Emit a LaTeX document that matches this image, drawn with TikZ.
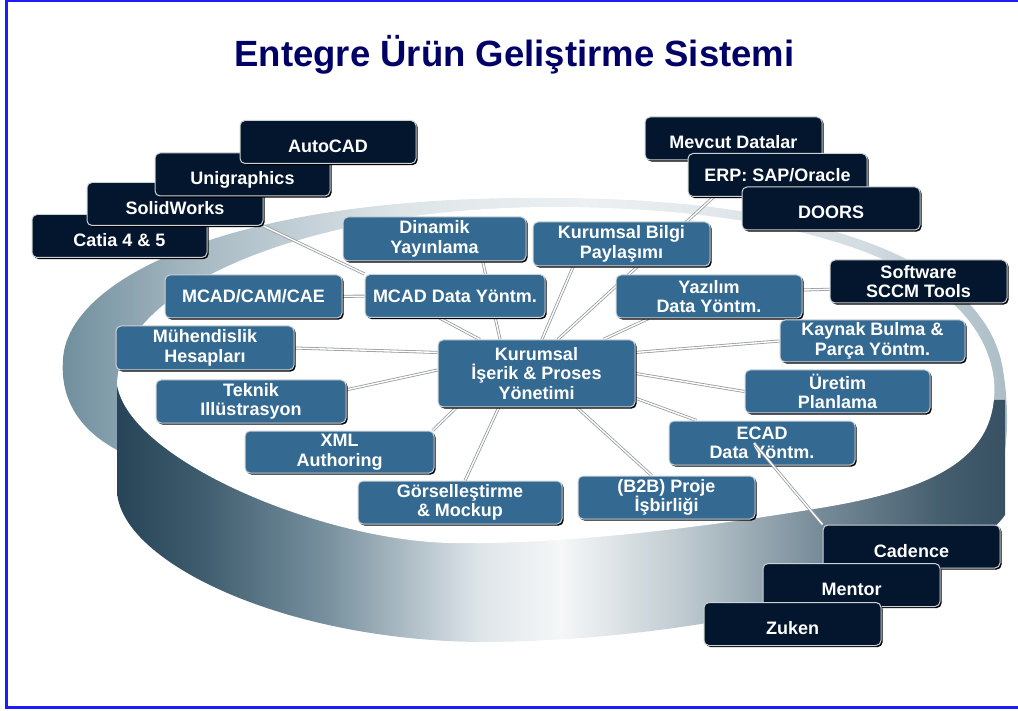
\documentclass[tikz,border=0pt]{standalone}
\usepackage{fontspec}
\setmainfont{Liberation Sans}
\usetikzlibrary{shadows}

\definecolor{frameblue}{RGB}{28,28,250}
\definecolor{titlenavy}{RGB}{0,0,102}
\definecolor{boxblue}{RGB}{52,106,146}
\definecolor{boxnavy}{RGB}{3,22,45}
\definecolor{boxedge}{RGB}{205,210,214}
\definecolor{linkgray}{RGB}{150,155,160}

% rim of the drum
\definecolor{rimA}{RGB}{112,142,157}
\definecolor{rimB}{RGB}{165,184,194}
\definecolor{rimC}{RGB}{222,229,233}
\definecolor{rimD}{RGB}{236,240,242}
\definecolor{rimE}{RGB}{212,221,226}
\definecolor{rimF}{RGB}{172,189,198}
\pgfdeclarehorizontalshading{rimshade}{100bp}{color(0bp)=(rimA); color(25bp)=(rimA); color(32bp)=(rimB); color(43bp)=(rimC); color(53bp)=(rimD); color(67bp)=(rimE); color(75bp)=(rimF); color(100bp)=(rimF)}

% side wall of the drum
\definecolor{sideA}{RGB}{40,68,88}
\definecolor{sideB}{RGB}{62,92,110}
\definecolor{sideC}{RGB}{122,146,160}
\definecolor{sideD}{RGB}{222,229,233}
\definecolor{sideE}{RGB}{245,247,248}
\definecolor{sideF}{RGB}{192,203,209}
\definecolor{sideG}{RGB}{118,139,152}
\definecolor{sideH}{RGB}{70,95,111}
\definecolor{sideI}{RGB}{55,80,98}
\pgfdeclarehorizontalshading{sideshade}{100bp}{color(0bp)=(sideA); color(25bp)=(sideA); color(29.7bp)=(sideB); color(37bp)=(sideC); color(45.4bp)=(sideD); color(50bp)=(sideE); color(56.7bp)=(sideF); color(64.6bp)=(sideG); color(71.3bp)=(sideH); color(75bp)=(sideI); color(100bp)=(sideI)}

\pgfdeclarelayer{drum}
\pgfdeclarelayer{links}
\pgfdeclarelayer{front}
\pgfsetlayers{drum,links,main,front}

\tikzset{
	box/.style={rounded corners=5pt, draw=boxedge, line width=1pt, text=white,
		font=\fontsize{18}{19.5}\selectfont\bfseries, align=center, inner sep=2pt,
		minimum height=43pt,
		drop shadow={shadow xshift=1.6pt, shadow yshift=-1.6pt, fill=black, opacity=1}},
	bluebox/.style={box, fill=boxblue},
	navybox/.style={box, fill=boxnavy},
	toolbox/.style={navybox, text height=21pt, text depth=0pt},
	link/.style={draw=linkgray, double=white, double distance=1.4pt, line width=0.8pt}
}

\begin{document}
\begin{tikzpicture}[x=1pt,y=-1pt]
	\useasboundingbox (0,0) rectangle (1018,711);

	\draw[frameblue, line width=3pt] (6,1) rectangle (1030,707);
	\node[anchor=base, text=titlenavy, font=\fontsize{36.5}{40}\selectfont\bfseries] (title) at (514.5,66.5) {Entegre Ürün Geliştirme Sistemi};

	% the drum: rim, side wall, top face
	\begin{pgfonlayer}{drum}
	\shade[shading=rimshade] (117,450) .. controls (80,430) and (60,400) .. (63,360)
		.. controls (66,280) and (230,195) .. (550,198)
		.. controls (800,198) and (985,255) .. (1003,370)
		.. controls (1008,400) and (1008,430) .. (1005,450) -- cycle;
	\shade[shading=sideshade] (117,385) -- (117,490)
		.. controls (118,560) and (280,640) .. (480,642)
		.. controls (700,642) and (960,580) .. (1005,515) -- (1005,400) -- cycle;
	\fill[white] (117,385) .. controls (118,290) and (300,208) .. (550,207)
		.. controls (800,207) and (980,265) .. (994,380)
		.. controls (1000,460) and (930,490) .. (820,508)
		.. controls (700,528) and (560,545) .. (450,543)
		.. controls (320,540) and (130,460) .. (117,385) -- cycle;
	\end{pgfonlayer}

	% blue modules on the drum
	\node[bluebox, minimum width=197pt, minimum height=67pt] (kurumsal) at (536.5,373.5) {Kurumsal\\İşerik \& Proses\\Yönetimi};
	\node[bluebox, minimum width=183pt, minimum height=44pt] (dinamik) at (434.5,239) {Dinamik\\Yayınlama};
	\node[bluebox, minimum width=177pt] (mcadcam) at (253.5,296.5) {MCAD/CAM/CAE};
	\node[bluebox, minimum width=180pt] (mcaddata) at (455,296) {MCAD Data Yöntm.};
	\node[bluebox, minimum width=177pt, minimum height=44pt] (bilgi) at (621.5,244) {Kurumsal Bilgi\\Paylaşımı};
	\node[bluebox, minimum width=186pt] (yazilim) at (709,296.5) {Yazılım\\Data Yöntm.};
	\node[bluebox, minimum width=185pt, minimum height=42pt] (kaynak) at (872.5,341) {Kaynak Bulma \&\\Parça Yöntm.};
	\node[bluebox, minimum width=185pt] (uretim) at (837.5,391.5) {Üretim\\Planlama};
	\node[bluebox, minimum width=186pt, minimum height=44pt] (ecad) at (762,443) {ECAD\\Data Yöntm.};
	\node[bluebox, minimum width=177pt] (b2b) at (666.5,497.5) {(B2B) Proje\\İşbirliği};
	\node[bluebox, minimum width=178pt, minimum height=44pt] (muhendislik) at (205,348) {Mühendislik\\Hesapları};
	\node[bluebox, minimum width=190pt] (teknik) at (251,401.5) {Teknik\\Illüstrasyon};
	\node[bluebox, minimum width=189pt, minimum height=42pt] (xml) at (339.5,452) {XML\\Authoring};
	\node[bluebox, minimum width=204pt] (gorsel) at (460,502.5) {Görselleştirme\\\& Mockup};

	% tools, back to front
	\node[toolbox, minimum width=175pt] (catia) at (119.5,236) {Catia 4 \& 5};
	\node[toolbox, minimum width=176pt] (solidworks) at (175,204) {SolidWorks};
	\node[toolbox, minimum width=175pt] (unigraphics) at (242.5,174.5) {Unigraphics};
	\node[toolbox, minimum width=176pt] (autocad) at (328,142) {AutoCAD};

	\node[toolbox, minimum width=177pt] (mevcut) at (733.5,138.5) {Mevcut Datalar};
	\node[navybox, minimum width=179pt] (erp) at (777.5,175) {ERP: SAP/Oracle};
	\node[toolbox, minimum width=178pt] (doors) at (831,208.5) {DOORS};
	\node[navybox, minimum width=177pt] (sccm) at (918.5,281.5) {Software\\SCCM Tools};

	\begin{pgfonlayer}{front}
	\node[toolbox, minimum width=177pt] (cadence) at (911.5,546.5) {Cadence};
	\node[toolbox, minimum width=177pt] (mentor) at (851.5,585) {Mentor};
	\node[toolbox, minimum width=177pt] (zuken) at (792.5,624) {Zuken};
	\end{pgfonlayer}

	\draw[link] ([xshift=-8pt]ecad.center) -- (cadence.north west);

	% links under the boxes
	\begin{pgfonlayer}{links}
	\draw[link] (solidworks.south east) -- (mcaddata.north west);
	\draw[link] (mcadcam) -- (mcaddata);
	\draw[link] (dinamik.-25) -- (kurumsal.137);
	\draw[link] (mcaddata.235) -- (kurumsal.149);
	\draw[link] (bilgi.205) -- (kurumsal.81);
	\draw[link] (erp.199) -- (kurumsal.58);
	\draw[link] (yazilim.200) -- (kurumsal.27);
	\draw[link] (yazilim.4) -- (sccm.185);
	\draw[link] (kaynak.west) -- (kurumsal.12);
	\draw[link] (uretim.west) -- (kurumsal.east);
	\draw[link] (ecad.161) -- (kurumsal.-14);
	\draw[link] (b2b.124) -- (kurumsal.-40);
	\draw[link] (gorsel.77) -- (kurumsal.222);
	\draw[link] (xml.13) -- (kurumsal.203);
	\draw[link] (teknik.7) -- (kurumsal.178);
	\draw[link] (muhendislik.east) -- (kurumsal.168);
	\end{pgfonlayer}
\end{tikzpicture}
\end{document}
